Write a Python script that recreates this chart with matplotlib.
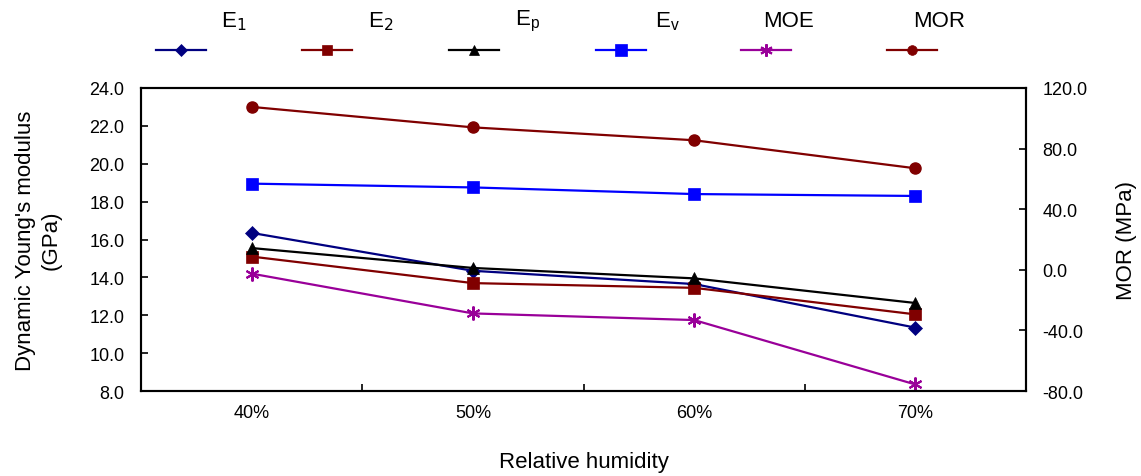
import matplotlib
matplotlib.use("Agg")
import matplotlib.pyplot as plt
from matplotlib.lines import Line2D

plt.rcParams['font.family'] = ['Liberation Sans', 'DejaVu Sans']

# Data
humidity = ['40%', '50%', '60%', '70%']
e1 = [16.35, 14.35, 13.65, 11.35]
e2 = [15.1, 13.7, 13.45, 12.05]
ep = [15.55, 14.5, 13.95, 12.65]
ev = [18.95, 18.75, 18.4, 18.3]
moe = [14.2, 12.1, 11.75, 8.35]
mor = [107.5, 94.0, 85.5, 67.0]

series = [
    ('E$_1$', e1, '#000080', 'D', 7),
    ('E$_2$', e2, '#800000', 's', 8),
    ('E$_\\mathregular{p}$', ep, '#000000', '^', 8),
    ('E$_\\mathregular{v}$', ev, '#0000FF', 's', 9),
    ('MOE', moe, '#990099', (6, 2, 0), 10),
]
mor_style = ('MOR', mor, '#800000', 'o', 8)

fig = plt.figure(figsize=(11.41, 4.77), dpi=100)
ax = fig.add_axes([0.1236, 0.178, 0.7756, 0.6355])
ax2 = ax.twinx()

x = list(range(len(humidity)))
for label, vals, color, marker, ms in series:
    ax.plot(x, vals, color=color, marker=marker, markersize=ms, linewidth=1.6,
            markeredgewidth=1.5 if marker == (6, 2, 0) else 0.5,
            markeredgecolor=color)
label, vals, color, marker, ms = mor_style
ax2.plot(x, vals, color=color, marker=marker, markersize=ms, linewidth=1.6)

ax.set_xlim(-0.5, 3.5)
ax.set_ylim(8, 24)
ax2.set_ylim(-80, 120)
ax.set_yticks([8, 10, 12, 14, 16, 18, 20, 22, 24])
ax.set_yticklabels([f'{v:.1f}' for v in range(8, 25, 2)])
ax2.set_yticks([-80, -40, 0, 40, 80, 120])
ax2.set_yticklabels([f'{v:.1f}' for v in range(-80, 121, 40)])

ax.set_xticks(x)
ax.set_xticklabels(humidity)
ax.set_xticks([0.5, 1.5, 2.5], minor=True)
ax.tick_params(axis='x', which='major', length=0, pad=9, labelsize=13)
ax.tick_params(axis='x', which='minor', direction='in', length=5, width=1.2)
ax.tick_params(axis='y', direction='in', length=5, width=1.2, pad=12, labelsize=13)
ax2.tick_params(axis='y', direction='in', length=5, width=1.2, pad=12, labelsize=13)

for a in (ax, ax2):
    for s in a.spines.values():
        s.set_linewidth(1.5)

ax.set_xlabel('Relative humidity', fontsize=16, labelpad=22)
ax.set_ylabel("Dynamic Young's modulus\n(GPa)", fontsize=16, labelpad=20,
              linespacing=1.25)
ax2.set_ylabel('MOR (MPa)', fontsize=16, labelpad=20)

# Legend: label text above a short line sample with the marker
leg_x = [0.1586, 0.2866, 0.4155, 0.5443, 0.6713, 0.7993]
text_x = [0.205, 0.334, 0.462, 0.585, 0.691, 0.823]
for i, (label, vals, color, marker, ms) in enumerate(series + [mor_style]):
    cx = leg_x[i]
    fig.add_artist(Line2D([cx - 0.022, cx, cx + 0.022], [0.893, 0.893, 0.893],
                          transform=fig.transFigure, color=color, linewidth=1.6,
                          marker=marker, markersize=ms - 1, markevery=[1],
                          markeredgecolor=color,
                          markeredgewidth=1.5 if marker == (6, 2, 0) else 0.5))
    fig.text(text_x[i], 0.955, label, fontsize=16, ha='center', va='center')

fig.savefig('out.png', dpi=100)
